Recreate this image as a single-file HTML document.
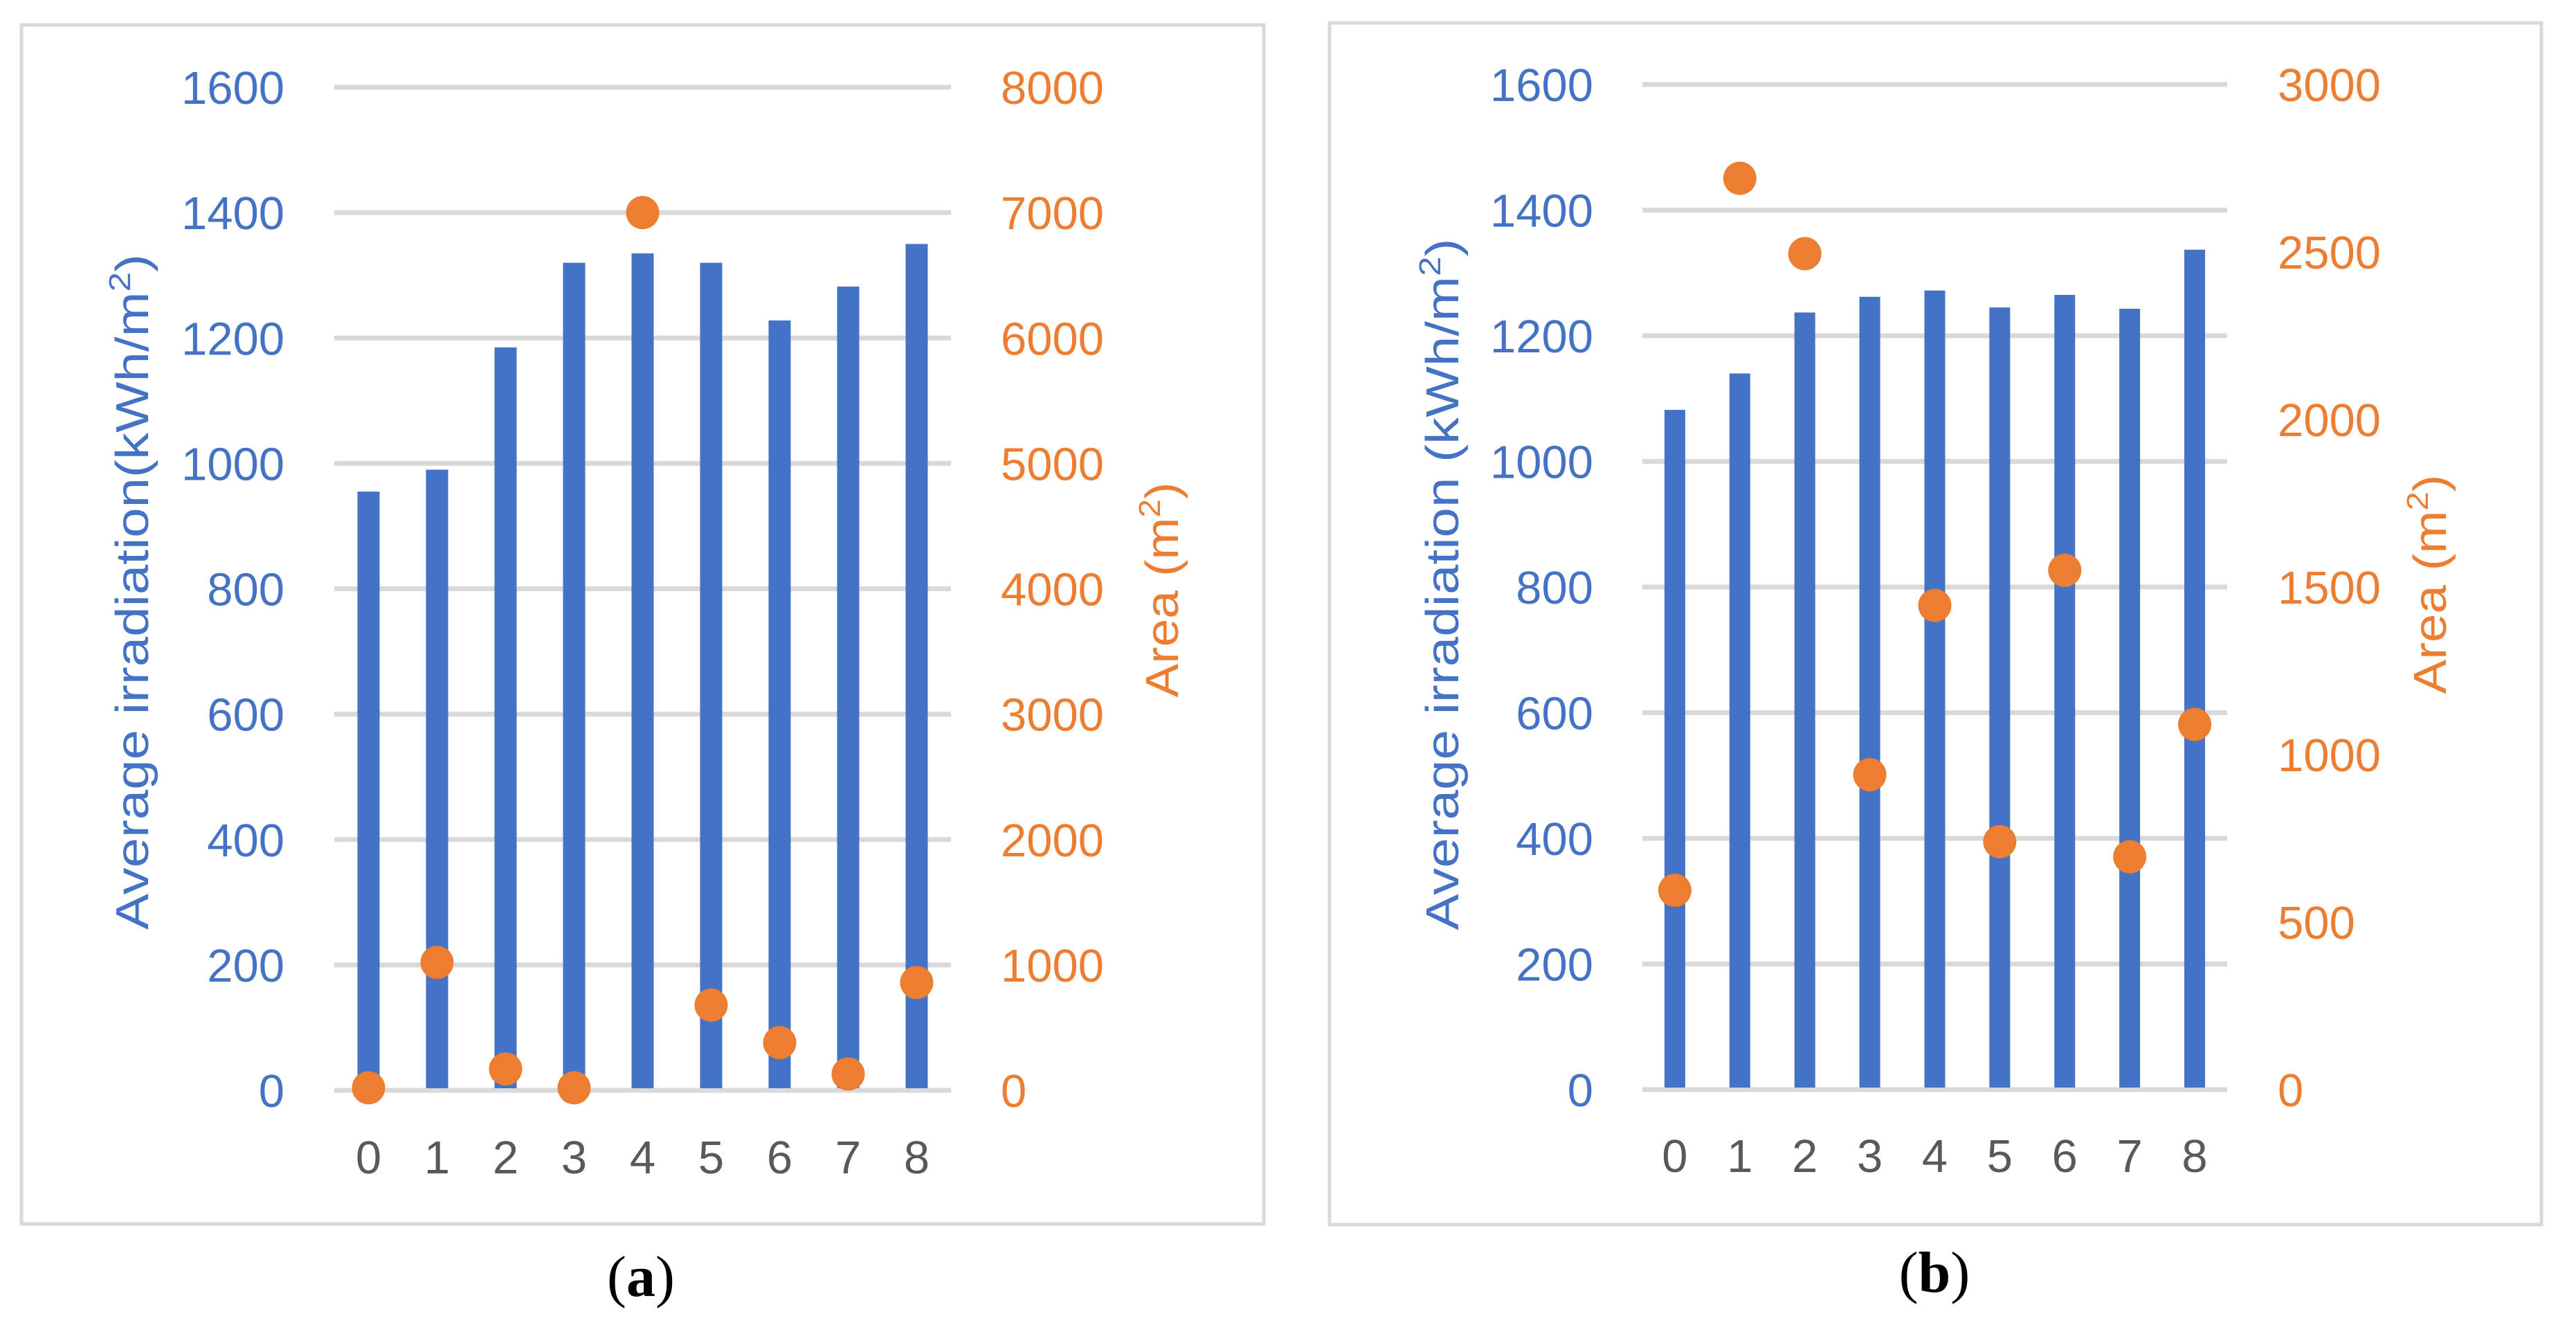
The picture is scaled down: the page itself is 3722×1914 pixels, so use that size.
<!DOCTYPE html>
<html><head><meta charset="utf-8"><style>
html,body{margin:0;padding:0;background:#fff;}
svg{display:block;font-family:"Liberation Sans",sans-serif;}
</style></head><body>
<svg id="chart" width="3722" height="1914" viewBox="0 0 3722 1914" xmlns="http://www.w3.org/2000/svg"></svg>
<script>
const categories = ["0","1","2","3","4","5","6","7","8"];
const irradiationA = [955, 990, 1185, 1320, 1335, 1320, 1228, 1282, 1350];
const areaA = [20, 1020, 170, 20, 7000, 680, 380, 130, 860];
const irradiationB = [1082, 1140, 1237, 1262, 1272, 1245, 1265, 1243, 1337];
const areaB = [595, 2720, 2495, 940, 1445, 740, 1550, 695, 1090];
const leftTicks = [0, 200, 400, 600, 800, 1000, 1200, 1400, 1600];
const rightTicksA = [0, 1000, 2000, 3000, 4000, 5000, 6000, 7000, 8000];
const rightTicksB = [0, 500, 1000, 1500, 2000, 2500, 3000];

const NS = "http://www.w3.org/2000/svg";
const svg = document.getElementById("chart");
function mk(tag, attrs, parent){
  const e = document.createElementNS(NS, tag);
  for (const k in attrs) e.setAttribute(k, attrs[k]);
  (parent||svg).appendChild(e);
  return e;
}
const BLUE="#4472C4", ORANGE="#ED7D31", GRID="#D9D9D9";

function panel(cfg){
  const g = mk("g", {});
  
  
  const fr = mk("rect", {x:cfg.frame[0], y:cfg.frame[1], width:cfg.frame[2]-cfg.frame[0], height:cfg.frame[3]-cfg.frame[1], fill:"none", stroke:GRID, "stroke-width":5}, g);
  
  
  const yL = v => cfg.y0 + (cfg.y1 - cfg.y0) * v / 1600;
  const yR = v => cfg.y0 + (cfg.y1 - cfg.y0) * v / cfg.rMax;
  const step = (cfg.xR - cfg.xL) / categories.length;
  const xC = i => cfg.xL + step * (i + 0.5);
  leftTicks.forEach(t => {
    const ln = mk("line", {x1:cfg.xL, x2:cfg.xR, y1:yL(t), y2:yL(t), stroke:GRID, "stroke-width":7}, g);
    
    
    const tx = mk("text", {x:cfg.lLab, y:yL(t)+24, "text-anchor":"end", "font-size":67, fill:BLUE}, g);
    tx.textContent = t;
    
    
  });
  cfg.rTicks.forEach(t => {
    const tx = mk("text", {x:cfg.rLab, y:yR(t)+24, "text-anchor":"start", "font-size":67, fill:ORANGE}, g);
    tx.textContent = t;
    
    
  });
  cfg.bars.forEach((v, i) => {
    const b = mk("rect", {x:xC(i)-cfg.bw/2, y:yL(v), width:cfg.bw, height:yL(0)-yL(v)-3, fill:BLUE}, g);
    
    
  });
  cfg.dots.forEach((v, i) => {
    const c = mk("circle", {cx:xC(i), cy:yR(v), r:24, fill:ORANGE}, g);
    
    
  });
  categories.forEach((c, i) => {
    const tx = mk("text", {x:xC(i), y:cfg.xLabY, "text-anchor":"middle", "font-size":67, fill:"#595959"}, g);
    tx.textContent = c;
    
    
  });
  const yt = mk("text", {x:0, y:0, transform:`translate(${cfg.ytX+24},${cfg.ytY}) rotate(-90)`, "text-anchor":"middle", "font-size":67, fill:BLUE, textLength:cfg.ytLen, lengthAdjust:"spacingAndGlyphs"}, g);
  yt.innerHTML = cfg.ytText + '<tspan font-size="44" dy="-26">2</tspan><tspan dy="26">)</tspan>';
  
  
  const rt = mk("text", {x:0, y:0, transform:`translate(${cfg.rtX+24},${cfg.rtY}) rotate(-90)`, "text-anchor":"middle", "font-size":67, fill:ORANGE, textLength:cfg.rtLen, lengthAdjust:"spacingAndGlyphs"}, g);
  rt.innerHTML = 'Area (m<tspan font-size="44" dy="-26">2</tspan><tspan dy="26">)</tspan>';
  
  
  const cap = mk("text", {x:cfg.capX, y:cfg.capY, "text-anchor":"middle", "font-size":84, fill:"#000", "font-family":"Liberation Serif, serif"}, g);
  cap.innerHTML = '(<tspan font-weight="bold">' + cfg.cap + '</tspan>)';
  
  
}

panel({name:"panel-a", frame:[31,36,1826,1768], xL:483, xR:1374, y0:1575, y1:126, rMax:8000, rTicks:rightTicksA,
  bars:irradiationA, dots:areaA, bw:32, lLab:411, rLab:1446, xLabY:1695,
  ytX:190, ytY:855, ytLen:976, ytText:"Average irradiation(kWh/m",
  rtX:1678, rtY:852, rtLen:311, capX:926, capY:1872, cap:"a"});
panel({name:"panel-b", frame:[1921,33,3672,1769], xL:2373, xR:3218, y0:1574, y1:122, rMax:3000, rTicks:rightTicksB,
  bars:irradiationB, dots:areaB, bw:30, lLab:2302, rLab:3291, xLabY:1693,
  ytX:2083, ytY:844, ytLen:999, ytText:"Average irradiation (kWh/m",
  rtX:3510, rtY:844, rtLen:317, capX:2795, capY:1866, cap:"b"});
</script>
</body></html>
